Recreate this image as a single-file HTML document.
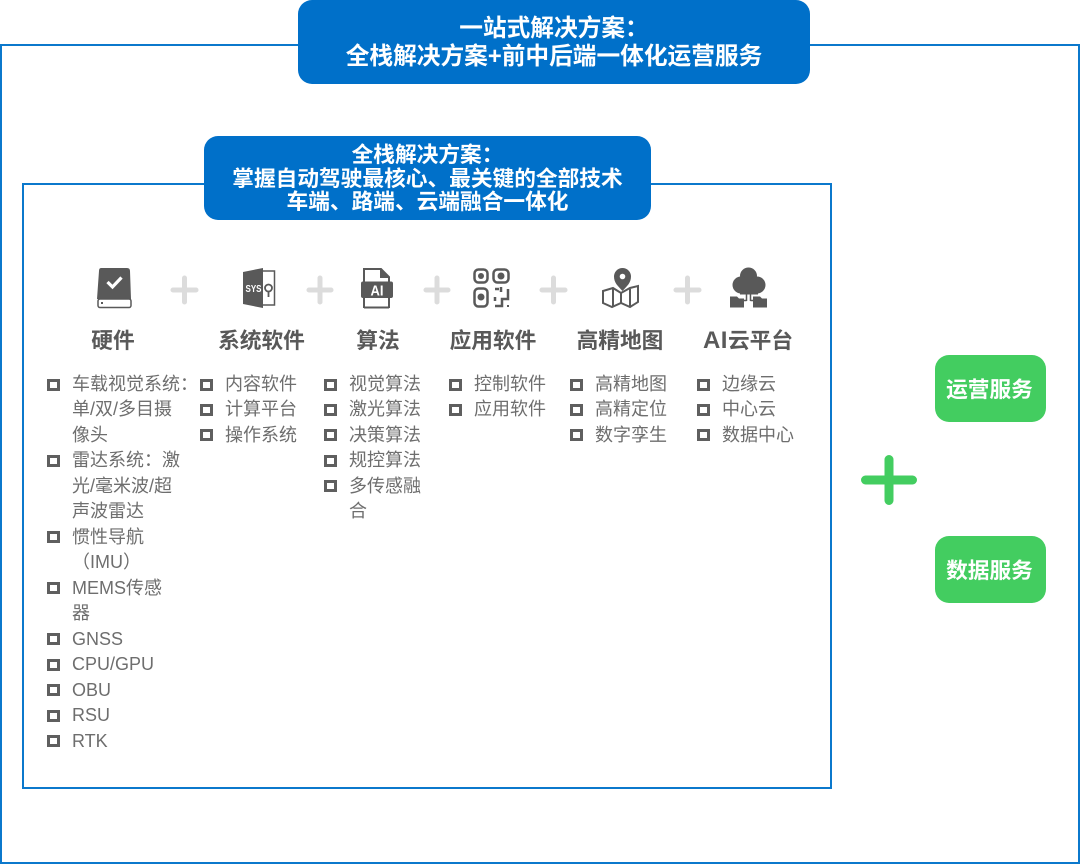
<!DOCTYPE html>
<html lang="zh-CN"><head><meta charset="utf-8"><title>一站式解决方案</title>
<style>
html,body{margin:0;padding:0;background:#fff}
#p{position:relative;width:1080px;height:864px;overflow:hidden;background:#fff;font-family:"Liberation Sans","Noto Sans CJK SC",sans-serif}
.abs{position:absolute;box-sizing:border-box}
.hd{position:absolute;box-sizing:border-box;background:#0070c9;color:#fff;font-weight:700;text-align:center;white-space:nowrap}
.t{position:absolute;width:140px;text-align:center;font-size:21.7px;font-weight:700;color:#595959;line-height:30px;top:326px;white-space:nowrap}
.l{position:absolute;top:372px;color:#6e6e6e;font-size:18px;line-height:25.47px;white-space:nowrap}
.l div{position:relative}
.l div.b:before{content:"";position:absolute;box-sizing:border-box;left:-25.500px;top:6.500px;width:13px;height:12px;border:3px solid #5f5f5f}
.g{position:absolute;left:934px;width:111px;height:67px;border-radius:14px;color:#fff;font-weight:700;font-size:21.7px;line-height:69px;text-align:center;white-space:nowrap}
.gb{position:absolute;left:935px;width:111px;height:67px;border-radius:14px;background:#43cd60}
svg{position:absolute}
</style></head><body><div id="p">
<div class="abs" style="left:0;top:44px;width:1080px;height:820px;border:2px solid #0b78cc"></div>
<div class="abs" style="left:22px;top:183px;width:810px;height:606px;border:2px solid #0b78cc"></div>
<div class="hd" style="left:298px;top:0;width:512px;height:84px;border-radius:14px;font-size:23.700px;line-height:28px;padding-top:15px">一站式解决方案：<br>全栈解决方案+前中后端一体化运营服务</div>
<div class="hd" style="left:204px;top:136px;width:447px;height:84px;border-radius:14px;font-size:21.7px;line-height:23.500px;padding-top:7px">全栈解决方案：<br>掌握自动驾驶最核心、最关键的全部技术<br>车端、路端、云端融合一体化</div>

<svg style="left:0;top:0" width="1080" height="864" viewBox="0 0 1080 864">
<g stroke="#dcdcdc" stroke-width="5" stroke-linecap="round">
<path d="M173 290H196M184.500 278V302"/><path d="M309 290H331M320 278V302"/><path d="M426 290H448M437 278V302"/><path d="M542 290H565M553.500 278V302"/><path d="M676 290H699M687.500 278V302"/>
</g>
<path d="M865.500 480H912.500M889 459.500V500.500" stroke="#43cd60" stroke-width="9" stroke-linecap="round"/>
<!-- hardware -->
<path d="M101 268H127Q130 268 130 271L131 299H97L99 271Q99 268 101 268Z" fill="#595959"/>
<rect x="98" y="299" width="33" height="8.500" rx="2" fill="#fff" stroke="#595959" stroke-width="1.500"/><rect x="101" y="302" width="2" height="2" fill="#595959"/>
<path d="M107.500 282L112.500 287L121.500 277.500" fill="none" stroke="#fff" stroke-width="3.200"/>
<!-- sys -->
<path d="M243 272L263 268V308L243 304Z" fill="#595959"/>
<path d="M263 271H274.500V305H263" fill="none" stroke="#595959" stroke-width="1.500"/>
<text x="245.500" y="292" font-size="10" font-weight="700" fill="#fff" font-family="Liberation Sans" textLength="16" lengthAdjust="spacingAndGlyphs">SYS</text>
<circle cx="268.500" cy="288" r="3.500" fill="none" stroke="#595959" stroke-width="1.800"/><path d="M268.500 292V297" stroke="#595959" stroke-width="1.800"/>
<!-- AI -->
<path d="M364 303V269H381L389 277V303" fill="none" stroke="#595959" stroke-width="2"/>
<path d="M364 307.500H389" stroke="#595959" stroke-width="2"/><path d="M364 298V308M389 298V308" stroke="#595959" stroke-width="2"/>
<path d="M380 269V278H389Z" fill="#595959"/>
<rect x="361" y="281.500" width="32" height="16.500" rx="2" fill="#595959"/>
<text x="377" y="295.500" text-anchor="middle" font-size="15" font-weight="700" fill="#fff" font-family="Liberation Sans" textLength="13" lengthAdjust="spacingAndGlyphs">AI</text>
<!-- QR -->
<g fill="none" stroke="#595959" stroke-width="2.500">
<rect x="474.500" y="269.500" width="13" height="13" rx="4"/><rect x="493.500" y="269.500" width="15" height="13" rx="4"/><rect x="474.500" y="288.500" width="13" height="18" rx="4"/>
<path d="M495 289H499M501 287V292M508 289V299H502V306H495M495 297V301"/></g>
<circle cx="481" cy="276" r="3" fill="#595959"/><circle cx="501" cy="276" r="3.500" fill="#595959"/><circle cx="481" cy="297" r="3.500" fill="#595959"/><rect x="507" y="305" width="2" height="2" fill="#595959"/>
<!-- map -->
<path d="M603 291L613 288L621 293L630 288L638 286V302L630 307L621 303L612 307L603 303Z" fill="none" stroke="#595959" stroke-width="2"/>
<path d="M613 289V306M630 289V306M621 293V303" stroke="#595959" stroke-width="2"/>
<path d="M622.500 291C618 286 614 283 614 276.500A8.500 8.500 0 0 1 631 276.500C631 283 627 286 622.500 291Z" fill="#595959"/><circle cx="622.500" cy="276.500" r="2.800" fill="#fff"/>
<!-- cloud -->
<circle cx="748.500" cy="276" r="8.500" fill="#595959"/><circle cx="741" cy="285" r="8.500" fill="#595959"/><circle cx="757" cy="285" r="8.500" fill="#595959"/><rect x="740" y="281" width="18" height="13.500" fill="#595959"/>
<path d="M746.500 292V301M750.500 292V301M746.500 300.500H743M750.500 300.500H754" stroke="#595959" stroke-width="1.500" fill="none"/>
<path d="M730 296.500H737L739 298.500H744V307.500H730Z" fill="#595959"/><path d="M753 296.500H760L762 298.500H767V307.500H753Z" fill="#595959"/>
</svg>

<div class="t" style="left:43px">硬件</div>
<div class="t" style="left:191.500px">系统软件</div>
<div class="t" style="left:308px">算法</div>
<div class="t" style="left:423px">应用软件</div>
<div class="t" style="left:550px">高精地图</div>
<div class="t" style="left:678px"><span style="font-size:24px;font-weight:700;letter-spacing:.5px">AI</span>云平台</div>

<div class="l" style="left:72px">
<div class="b">车载视觉系统：<br>单/双/多目摄<br>像头</div>
<div class="b">雷达系统：激<br>光/毫米波/超<br>声波雷达</div>
<div class="b">惯性导航<br>（IMU）</div>
<div class="b">MEMS传感<br>器</div>
<div class="b">GNSS</div><div class="b">CPU/GPU</div><div class="b">OBU</div><div class="b">RSU</div><div class="b">RTK</div>
</div>
<div class="l" style="left:225px"><div class="b">内容软件</div><div class="b">计算平台</div><div class="b">操作系统</div></div>
<div class="l" style="left:349px"><div class="b">视觉算法</div><div class="b">激光算法</div><div class="b">决策算法</div><div class="b">规控算法</div><div class="b">多传感融<br>合</div></div>
<div class="l" style="left:474px"><div class="b">控制软件</div><div class="b">应用软件</div></div>
<div class="l" style="left:595px"><div class="b">高精地图</div><div class="b">高精定位</div><div class="b">数字孪生</div></div>
<div class="l" style="left:722px"><div class="b">边缘云</div><div class="b">中心云</div><div class="b">数据中心</div></div>

<div class="gb" style="top:355px"></div><div class="g" style="top:355px">运营服务</div>
<div class="gb" style="top:536px"></div><div class="g" style="top:536px">数据服务</div>
</div></body></html>
